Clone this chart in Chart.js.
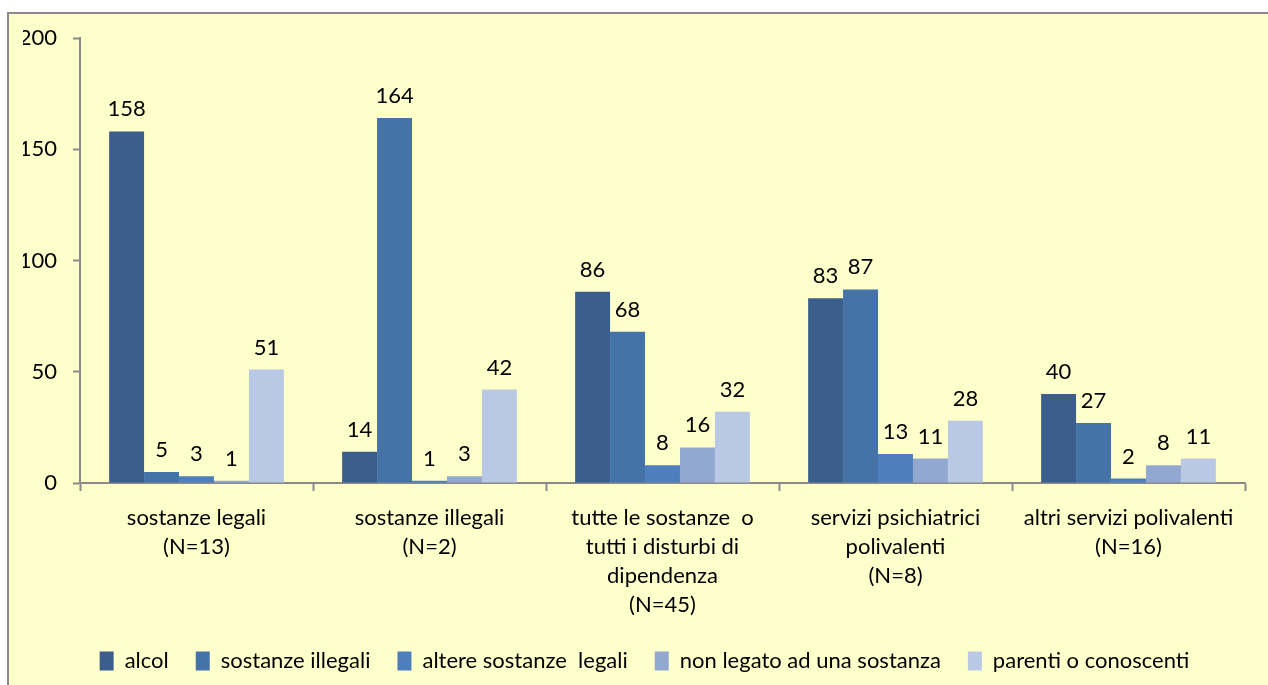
<!DOCTYPE html>
<html lang="it">
  <head>
    <meta charset="UTF-8" />
    <title>Servizi di invio</title>
    <script src="https://cdn.jsdelivr.net/npm/chart.js"></script>
    <style>
      html,
      body {
        margin: 0;
        padding: 0;
        background: #ffffff;
        overflow: hidden;
      }
      .frame {
        position: absolute;
        left: 7px;
        top: 12px;
        width: 1290px;
        height: 700px;
        background: #ffffcc;
        border: 2px solid #8a8a8a;
      }
      .wrap {
        position: absolute;
        left: 0;
        top: 0;
        width: 1268px;
        height: 685px;
      }
    </style>
  </head>
  <body>
    <div class="frame"></div>
    <div class="wrap"><canvas id="chart" width="1268" height="685"></canvas></div>
    <script>
      const categories = [
        ["sostanze legali", "(N=13)"],
        ["sostanze illegali", "(N=2)"],
        ["tutte le sostanze  o", "tutti i disturbi di", "dipendenza", "(N=45)"],
        ["servizi psichiatrici", "polivalenti", "(N=8)"],
        ["altri servizi polivalenti", "(N=16)"],
      ];
      const seriesNames = [
        "alcol",
        "sostanze illegali",
        "altere sostanze  legali",
        "non legato ad una sostanza",
        "parenti o conoscenti",
      ];
      const alcol = [158, 14, 86, 83, 40];
      const sostanzeIllegali = [5, 164, 68, 87, 27];
      const altereLegali = [3, 1, 8, 13, 2];
      const nonLegato = [1, 3, 16, 11, 8];
      const parenti = [51, 42, 32, 28, 11];
      const yTicks = [0, 50, 100, 150, 200];

      const colors = ["#3b5e8c", "#4572a7", "#4d7fbc", "#93a8d1", "#b9c8e4"];
      const font = "Lato";
      const axisColor = "#8a8a8a";

      // numbers above each bar
      const valueLabels = {
        id: "valueLabels",
        afterDatasetsDraw(chart) {
          const ctx = chart.ctx;
          ctx.save();
          ctx.font = "22px " + font;
          ctx.fillStyle = "#000";
          ctx.textAlign = "center";
          ctx.textBaseline = "alphabetic";
          chart.data.datasets.forEach((ds, i) => {
            chart.getDatasetMeta(i).data.forEach((bar, j) => {
              ctx.fillText(ds.data[j], bar.x, bar.y - 15);
            });
          });
          ctx.restore();
        },
      };

      const seriesData = [alcol, sostanzeIllegali, altereLegali, nonLegato, parenti];

      new Chart(document.getElementById("chart"), {
        type: "bar",
        data: {
          labels: categories,
          datasets: seriesNames.map((name, i) => ({
            label: name,
            data: seriesData[i],
            backgroundColor: colors[i],
            borderWidth: 0,
            categoryPercentage: 0.75,
            barPercentage: 1,
          })),
        },
        options: {
          responsive: false,
          animation: false,
          devicePixelRatio: 1,
          layout: {
            padding: { left: 23, right: 2, top: 38, bottom: 3 },
          },
          scales: {
            x: {
              grid: {
                offset: true,
                drawOnChartArea: false,
                drawTicks: true,
                tickLength: 8,
                tickColor: axisColor,
                tickWidth: 2,
              },
              border: { color: axisColor, width: 2 },
              ticks: {
                color: "#000",
                font: { family: font, size: 22, lineHeight: 1.318 },
                padding: 12,
                maxRotation: 0,
                autoSkip: false,
              },
              afterFit(scale) {
                scale.height = 140;
              },
            },
            y: {
              min: 0,
              max: 200,
              ticks: {
                stepSize: 50,
                color: "#000",
                font: { family: font, size: 22 },
                padding: 16,
                callback: (v) => (yTicks.includes(v) ? String(v) : ""),
              },
              grid: {
                drawOnChartArea: false,
                drawTicks: true,
                tickLength: 7,
                tickColor: axisColor,
                tickWidth: 2,
              },
              border: { color: axisColor, width: 2 },
              afterFit(scale) {
                scale.width = 57;
              },
            },
            // empty spacer on the right so the legend sits where it does in the original
            spacer: {
              type: "linear",
              position: "right",
              display: true,
              grid: { display: false },
              border: { display: false },
              ticks: { display: false },
              afterFit(scale) {
                scale.width = 21;
              },
            },
          },
          plugins: {
            legend: {
              position: "bottom",
              labels: {
                boxWidth: 14,
                boxHeight: 19,
                padding: 27,
                color: "#000",
                font: { family: font, size: 22 },
              },
            },
            tooltip: { enabled: false },
          },
        },
        plugins: [valueLabels],
      });
    </script>
  </body>
</html>
